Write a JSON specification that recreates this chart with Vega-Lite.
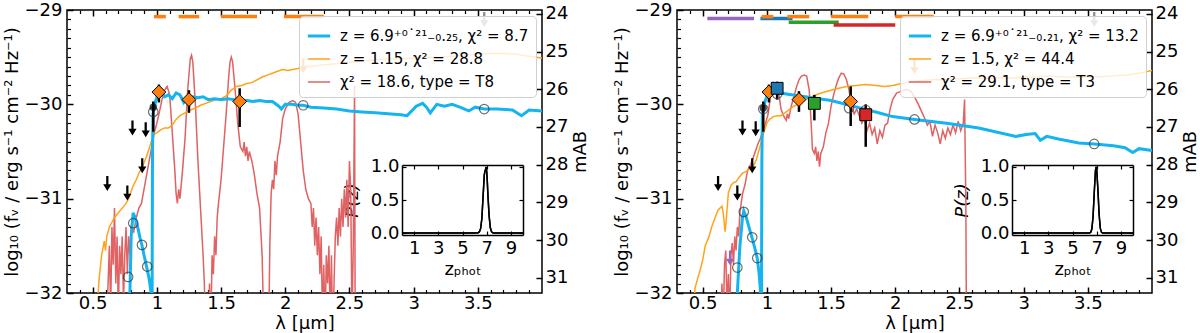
{
"$schema":"https://vega.github.io/schema/vega-lite/v6.json",
"padding":{"left":2,"top":0,"right":0,"bottom":0},
"bounds":"flush",
"spacing":135,
"config":{
 "font":"DejaVu Sans",
 "view":{"stroke":"black","strokeWidth":1.5},
 "axis":{"domain":false,"grid":false,"tickColor":"black","labelColor":"black","titleColor":"black","labelFontSize":18,"titleFontSize":18,"titleFontWeight":"normal","labelOverlap":false,"labelFlush":false,"labelBound":false,"tickCap":"butt"},
 "legend":{"orient":"top-right","offset":6,"title":null,"symbolType":"stroke","symbolSize":500,"labelFontSize":15,"labelOffset":8,"rowPadding":3,"padding":7,"fillColor":"rgba(255,255,255,0.8)","strokeColor":"#d0d0d0","cornerRadius":4,"labelLimit":400,"labelColor":"black"}
},
"resolve":{"scale":{"color":"independent","strokeWidth":"independent","stroke":"independent","fill":"independent"},"legend":{"color":"independent","strokeWidth":"independent"}},
"datasets":{
"L_mod":[
{"model":"bd","lam":0.60,"logf":-32.5},{"model":"bd","lam":0.62,"logf":-31.9},{"model":"bd","lam":0.63,"logf":-31.5},{"model":"bd","lam":0.64,"logf":-32.2},{"model":"bd","lam":0.65,"logf":-31.3},{"model":"bd","lam":0.66,"logf":-31.7},{"model":"bd","lam":0.67,"logf":-31.1},{"model":"bd","lam":0.68,"logf":-31.9},{"model":"bd","lam":0.69,"logf":-31.4},{"model":"bd","lam":0.70,"logf":-32.2},{"model":"bd","lam":0.71,"logf":-31.5},{"model":"bd","lam":0.72,"logf":-31.8},{"model":"bd","lam":0.73,"logf":-31.4},{"model":"bd","lam":0.74,"logf":-32.1},{"model":"bd","lam":0.75,"logf":-31.6},{"model":"bd","lam":0.76,"logf":-31.3},{"model":"bd","lam":0.77,"logf":-31.8},{"model":"bd","lam":0.78,"logf":-31.4},{"model":"bd","lam":0.79,"logf":-31.6},{"model":"bd","lam":0.80,"logf":-31.3},{"model":"bd","lam":0.82,"logf":-31.35},{"model":"bd","lam":0.84,"logf":-31.2},{"model":"bd","lam":0.86,"logf":-31.1},{"model":"bd","lam":0.88,"logf":-31.05},{"model":"bd","lam":0.90,"logf":-30.9},{"model":"bd","lam":0.92,"logf":-30.75},{"model":"bd","lam":0.94,"logf":-30.6},{"model":"bd","lam":0.96,"logf":-30.45},{"model":"bd","lam":0.98,"logf":-30.3},{"model":"bd","lam":1.00,"logf":-30.2},{"model":"bd","lam":1.02,"logf":-30.08},{"model":"bd","lam":1.04,"logf":-29.95},{"model":"bd","lam":1.06,"logf":-29.85},{"model":"bd","lam":1.08,"logf":-29.81},{"model":"bd","lam":1.10,"logf":-29.9},{"model":"bd","lam":1.12,"logf":-30.3},{"model":"bd","lam":1.14,"logf":-30.7},{"model":"bd","lam":1.15,"logf":-30.95},{"model":"bd","lam":1.16,"logf":-31.05},{"model":"bd","lam":1.17,"logf":-30.9},{"model":"bd","lam":1.18,"logf":-31.0},{"model":"bd","lam":1.20,"logf":-30.7},{"model":"bd","lam":1.22,"logf":-30.35},{"model":"bd","lam":1.24,"logf":-29.85},{"model":"bd","lam":1.26,"logf":-29.52},{"model":"bd","lam":1.27,"logf":-29.48},{"model":"bd","lam":1.28,"logf":-29.55},{"model":"bd","lam":1.30,"logf":-30.0},{"model":"bd","lam":1.32,"logf":-30.6},{"model":"bd","lam":1.34,"logf":-31.1},{"model":"bd","lam":1.36,"logf":-31.6},{"model":"bd","lam":1.37,"logf":-31.9},{"model":"bd","lam":1.38,"logf":-32.5},{"model":"bd","lam":1.40,"logf":-32.5},{"model":"bd","lam":1.41,"logf":-31.9},{"model":"bd","lam":1.42,"logf":-32.4},{"model":"bd","lam":1.43,"logf":-31.6},{"model":"bd","lam":1.44,"logf":-31.8},{"model":"bd","lam":1.45,"logf":-31.4},{"model":"bd","lam":1.46,"logf":-31.6},{"model":"bd","lam":1.47,"logf":-31.2},{"model":"bd","lam":1.48,"logf":-31.05},{"model":"bd","lam":1.50,"logf":-30.8},{"model":"bd","lam":1.52,"logf":-30.45},{"model":"bd","lam":1.54,"logf":-30.1},{"model":"bd","lam":1.56,"logf":-29.7},{"model":"bd","lam":1.57,"logf":-29.55},{"model":"bd","lam":1.58,"logf":-29.5},{"model":"bd","lam":1.59,"logf":-29.55},{"model":"bd","lam":1.61,"logf":-29.85},{"model":"bd","lam":1.63,"logf":-30.2},{"model":"bd","lam":1.65,"logf":-30.45},{"model":"bd","lam":1.67,"logf":-30.5},{"model":"bd","lam":1.68,"logf":-30.4},{"model":"bd","lam":1.69,"logf":-30.55},{"model":"bd","lam":1.70,"logf":-30.45},{"model":"bd","lam":1.71,"logf":-30.6},{"model":"bd","lam":1.72,"logf":-30.5},{"model":"bd","lam":1.74,"logf":-30.6},{"model":"bd","lam":1.76,"logf":-30.75},{"model":"bd","lam":1.78,"logf":-30.95},{"model":"bd","lam":1.80,"logf":-31.1},{"model":"bd","lam":1.82,"logf":-31.6},{"model":"bd","lam":1.83,"logf":-32.2},{"model":"bd","lam":1.84,"logf":-32.5},{"model":"bd","lam":1.87,"logf":-32.5},{"model":"bd","lam":1.88,"logf":-31.5},{"model":"bd","lam":1.89,"logf":-30.95},{"model":"bd","lam":1.90,"logf":-30.8},{"model":"bd","lam":1.91,"logf":-30.9},{"model":"bd","lam":1.92,"logf":-30.6},{"model":"bd","lam":1.93,"logf":-30.75},{"model":"bd","lam":1.94,"logf":-30.55},{"model":"bd","lam":1.96,"logf":-30.4},{"model":"bd","lam":1.98,"logf":-30.15},{"model":"bd","lam":2.00,"logf":-30.05},{"model":"bd","lam":2.03,"logf":-29.98},{"model":"bd","lam":2.06,"logf":-29.96},{"model":"bd","lam":2.08,"logf":-29.98},{"model":"bd","lam":2.10,"logf":-30.1},{"model":"bd","lam":2.12,"logf":-30.4},{"model":"bd","lam":2.14,"logf":-30.7},{"model":"bd","lam":2.16,"logf":-30.9},{"model":"bd","lam":2.18,"logf":-31.0},{"model":"bd","lam":2.20,"logf":-31.05},{"model":"bd","lam":2.21,"logf":-31.3},{"model":"bd","lam":2.22,"logf":-31.1},{"model":"bd","lam":2.23,"logf":-31.5},{"model":"bd","lam":2.24,"logf":-31.2},{"model":"bd","lam":2.25,"logf":-31.6},{"model":"bd","lam":2.26,"logf":-31.3},{"model":"bd","lam":2.27,"logf":-31.8},{"model":"bd","lam":2.28,"logf":-31.4},{"model":"bd","lam":2.29,"logf":-32.3},{"model":"bd","lam":2.30,"logf":-31.7},{"model":"bd","lam":2.31,"logf":-32.4},{"model":"bd","lam":2.32,"logf":-31.6},{"model":"bd","lam":2.33,"logf":-31.9},{"model":"bd","lam":2.34,"logf":-31.5},{"model":"bd","lam":2.35,"logf":-32.3},{"model":"bd","lam":2.36,"logf":-31.6},{"model":"bd","lam":2.37,"logf":-32.5},{"model":"bd","lam":2.38,"logf":-31.9},{"model":"bd","lam":2.39,"logf":-31.4},{"model":"bd","lam":2.40,"logf":-31.2},{"model":"bd","lam":2.41,"logf":-31.5},{"model":"bd","lam":2.42,"logf":-31.1},{"model":"bd","lam":2.43,"logf":-31.4},{"model":"bd","lam":2.44,"logf":-31.0},{"model":"bd","lam":2.45,"logf":-31.3},{"model":"bd","lam":2.46,"logf":-30.9},{"model":"bd","lam":2.47,"logf":-31.2},{"model":"bd","lam":2.48,"logf":-30.8},{"model":"bd","lam":2.49,"logf":-31.3},{"model":"bd","lam":2.50,"logf":-30.6},{"model":"bd","lam":2.51,"logf":-30.9},{"model":"bd","lam":2.52,"logf":-32.3},{"model":"bd","lam":2.53,"logf":-31.5},{"model":"bd","lam":2.54,"logf":-29.8},{"model":"bd","lam":2.545,"logf":-32.5},
{"model":"alt","lam":0.52,"logf":-32.5},{"model":"alt","lam":0.55,"logf":-31.85},{"model":"alt","lam":0.57,"logf":-31.6},{"model":"alt","lam":0.59,"logf":-31.45},{"model":"alt","lam":0.60,"logf":-31.55},{"model":"alt","lam":0.61,"logf":-31.4},{"model":"alt","lam":0.63,"logf":-31.3},{"model":"alt","lam":0.65,"logf":-31.25},{"model":"alt","lam":0.67,"logf":-31.2},{"model":"alt","lam":0.70,"logf":-31.15},{"model":"alt","lam":0.73,"logf":-31.1},{"model":"alt","lam":0.76,"logf":-31.05},{"model":"alt","lam":0.78,"logf":-31.0},{"model":"alt","lam":0.80,"logf":-30.92},{"model":"alt","lam":0.82,"logf":-30.85},{"model":"alt","lam":0.84,"logf":-30.8},{"model":"alt","lam":0.86,"logf":-30.73},{"model":"alt","lam":0.88,"logf":-30.68},{"model":"alt","lam":0.90,"logf":-30.62},{"model":"alt","lam":0.92,"logf":-30.55},{"model":"alt","lam":0.94,"logf":-30.47},{"model":"alt","lam":0.96,"logf":-30.38},{"model":"alt","lam":0.98,"logf":-30.32},{"model":"alt","lam":1.00,"logf":-30.3},{"model":"alt","lam":1.03,"logf":-30.27},{"model":"alt","lam":1.06,"logf":-30.25},{"model":"alt","lam":1.09,"logf":-30.25},{"model":"alt","lam":1.12,"logf":-30.22},{"model":"alt","lam":1.15,"logf":-30.16},{"model":"alt","lam":1.18,"logf":-30.12},{"model":"alt","lam":1.22,"logf":-30.09},{"model":"alt","lam":1.26,"logf":-30.06},{"model":"alt","lam":1.30,"logf":-30.04},{"model":"alt","lam":1.34,"logf":-30.01},{"model":"alt","lam":1.38,"logf":-29.99},{"model":"alt","lam":1.42,"logf":-29.97},{"model":"alt","lam":1.46,"logf":-29.95},{"model":"alt","lam":1.50,"logf":-29.94},{"model":"alt","lam":1.54,"logf":-29.91},{"model":"alt","lam":1.58,"logf":-29.85},{"model":"alt","lam":1.62,"logf":-29.81},{"model":"alt","lam":1.66,"logf":-29.8},{"model":"alt","lam":1.70,"logf":-29.78},{"model":"alt","lam":1.74,"logf":-29.77},{"model":"alt","lam":1.78,"logf":-29.74},{"model":"alt","lam":1.82,"logf":-29.71},{"model":"alt","lam":1.86,"logf":-29.69},{"model":"alt","lam":1.90,"logf":-29.67},{"model":"alt","lam":1.94,"logf":-29.65},{"model":"alt","lam":1.98,"logf":-29.63},{"model":"alt","lam":2.02,"logf":-29.64},{"model":"alt","lam":2.06,"logf":-29.63},{"model":"alt","lam":2.10,"logf":-29.62},{"model":"alt","lam":2.14,"logf":-29.6},{"model":"alt","lam":2.2,"logf":-29.6},{"model":"alt","lam":2.3,"logf":-29.58},{"model":"alt","lam":2.4,"logf":-29.57},{"model":"alt","lam":2.5,"logf":-29.55},{"model":"alt","lam":2.6,"logf":-29.54},{"model":"alt","lam":2.7,"logf":-29.53},{"model":"alt","lam":2.8,"logf":-29.52},{"model":"alt","lam":2.9,"logf":-29.52},{"model":"alt","lam":3.0,"logf":-29.51},{"model":"alt","lam":3.1,"logf":-29.5},{"model":"alt","lam":3.2,"logf":-29.5},{"model":"alt","lam":3.3,"logf":-29.49},{"model":"alt","lam":3.4,"logf":-29.48},{"model":"alt","lam":3.5,"logf":-29.47},{"model":"alt","lam":3.6,"logf":-29.46},{"model":"alt","lam":3.7,"logf":-29.46},{"model":"alt","lam":3.8,"logf":-29.47},{"model":"alt","lam":3.9,"logf":-29.49},{"model":"alt","lam":4.0,"logf":-29.51},
{"model":"fit","lam":0.78,"logf":-32.6},{"model":"fit","lam":0.79,"logf":-32.0},{"model":"fit","lam":0.80,"logf":-31.4},{"model":"fit","lam":0.815,"logf":-31.15},{"model":"fit","lam":0.83,"logf":-31.2},{"model":"fit","lam":0.85,"logf":-31.3},{"model":"fit","lam":0.87,"logf":-31.42},{"model":"fit","lam":0.885,"logf":-31.5},{"model":"fit","lam":0.90,"logf":-31.6},{"model":"fit","lam":0.92,"logf":-31.72},{"model":"fit","lam":0.94,"logf":-31.85},{"model":"fit","lam":0.955,"logf":-32.0},{"model":"fit","lam":0.96,"logf":-32.6},{"model":"fit","lam":0.962,"logf":-32.6},{"model":"fit","lam":0.966,"logf":-30.5},{"model":"fit","lam":0.97,"logf":-30.1},{"model":"fit","lam":0.99,"logf":-29.97},{"model":"fit","lam":1.01,"logf":-29.88},{"model":"fit","lam":1.03,"logf":-29.85},{"model":"fit","lam":1.06,"logf":-29.92},{"model":"fit","lam":1.09,"logf":-29.9},{"model":"fit","lam":1.12,"logf":-29.94},{"model":"fit","lam":1.15,"logf":-29.88},{"model":"fit","lam":1.18,"logf":-29.9},{"model":"fit","lam":1.21,"logf":-29.98},{"model":"fit","lam":1.24,"logf":-29.93},{"model":"fit","lam":1.28,"logf":-29.92},{"model":"fit","lam":1.32,"logf":-29.93},{"model":"fit","lam":1.36,"logf":-29.92},{"model":"fit","lam":1.40,"logf":-29.95},{"model":"fit","lam":1.45,"logf":-29.94},{"model":"fit","lam":1.50,"logf":-29.95},{"model":"fit","lam":1.55,"logf":-29.94},{"model":"fit","lam":1.60,"logf":-29.95},{"model":"fit","lam":1.65,"logf":-29.96},{"model":"fit","lam":1.70,"logf":-29.96},{"model":"fit","lam":1.75,"logf":-29.97},{"model":"fit","lam":1.80,"logf":-29.96},{"model":"fit","lam":1.85,"logf":-29.97},{"model":"fit","lam":1.90,"logf":-29.97},{"model":"fit","lam":1.95,"logf":-30.02},{"model":"fit","lam":1.97,"logf":-30.05},{"model":"fit","lam":2.0,"logf":-30.0},{"model":"fit","lam":2.05,"logf":-30.0},{"model":"fit","lam":2.1,"logf":-30.01},{"model":"fit","lam":2.14,"logf":-30.01},{"model":"fit","lam":2.2,"logf":-30.03},{"model":"fit","lam":2.3,"logf":-30.04},{"model":"fit","lam":2.4,"logf":-30.05},{"model":"fit","lam":2.5,"logf":-30.07},{"model":"fit","lam":2.6,"logf":-30.08},{"model":"fit","lam":2.7,"logf":-30.09},{"model":"fit","lam":2.8,"logf":-30.1},{"model":"fit","lam":2.9,"logf":-30.11},{"model":"fit","lam":2.95,"logf":-30.12},{"model":"fit","lam":3.02,"logf":-30.02},{"model":"fit","lam":3.07,"logf":-29.99},{"model":"fit","lam":3.1,"logf":-30.03},{"model":"fit","lam":3.13,"logf":-30.09},{"model":"fit","lam":3.18,"logf":-30.0},{"model":"fit","lam":3.24,"logf":-30.02},{"model":"fit","lam":3.3,"logf":-30.0},{"model":"fit","lam":3.36,"logf":-30.03},{"model":"fit","lam":3.43,"logf":-30.07},{"model":"fit","lam":3.48,"logf":-30.03},{"model":"fit","lam":3.55,"logf":-30.05},{"model":"fit","lam":3.65,"logf":-30.05},{"model":"fit","lam":3.77,"logf":-30.06},{"model":"fit","lam":3.84,"logf":-30.12},{"model":"fit","lam":3.9,"logf":-30.06},{"model":"fit","lam":4.0,"logf":-30.07}
],
"R_mod":[
{"model":"bd","lam":0.64,"logf":-32.5},{"model":"bd","lam":0.65,"logf":-31.9},{"model":"bd","lam":0.66,"logf":-32.3},{"model":"bd","lam":0.67,"logf":-31.7},{"model":"bd","lam":0.68,"logf":-31.55},{"model":"bd","lam":0.69,"logf":-32.2},{"model":"bd","lam":0.70,"logf":-31.8},{"model":"bd","lam":0.71,"logf":-32.3},{"model":"bd","lam":0.72,"logf":-31.6},{"model":"bd","lam":0.73,"logf":-31.47},{"model":"bd","lam":0.74,"logf":-31.7},{"model":"bd","lam":0.75,"logf":-31.4},{"model":"bd","lam":0.76,"logf":-31.55},{"model":"bd","lam":0.77,"logf":-31.3},{"model":"bd","lam":0.78,"logf":-31.4},{"model":"bd","lam":0.79,"logf":-31.15},{"model":"bd","lam":0.81,"logf":-30.95},{"model":"bd","lam":0.83,"logf":-30.85},{"model":"bd","lam":0.85,"logf":-30.7},{"model":"bd","lam":0.87,"logf":-30.65},{"model":"bd","lam":0.89,"logf":-30.58},{"model":"bd","lam":0.91,"logf":-30.5},{"model":"bd","lam":0.93,"logf":-30.42},{"model":"bd","lam":0.95,"logf":-30.36},{"model":"bd","lam":0.97,"logf":-30.28},{"model":"bd","lam":0.99,"logf":-30.2},{"model":"bd","lam":1.01,"logf":-30.1},{"model":"bd","lam":1.03,"logf":-29.9},{"model":"bd","lam":1.05,"logf":-29.77},{"model":"bd","lam":1.07,"logf":-29.8},{"model":"bd","lam":1.09,"logf":-29.86},{"model":"bd","lam":1.11,"logf":-30.05},{"model":"bd","lam":1.13,"logf":-30.12},{"model":"bd","lam":1.15,"logf":-30.17},{"model":"bd","lam":1.16,"logf":-30.1},{"model":"bd","lam":1.17,"logf":-30.15},{"model":"bd","lam":1.19,"logf":-30.02},{"model":"bd","lam":1.21,"logf":-29.92},{"model":"bd","lam":1.23,"logf":-29.82},{"model":"bd","lam":1.25,"logf":-29.74},{"model":"bd","lam":1.27,"logf":-29.7},{"model":"bd","lam":1.29,"logf":-29.69},{"model":"bd","lam":1.31,"logf":-29.7},{"model":"bd","lam":1.33,"logf":-29.85},{"model":"bd","lam":1.345,"logf":-30.2},{"model":"bd","lam":1.355,"logf":-30.48},{"model":"bd","lam":1.37,"logf":-30.52},{"model":"bd","lam":1.38,"logf":-30.45},{"model":"bd","lam":1.39,"logf":-30.6},{"model":"bd","lam":1.40,"logf":-30.5},{"model":"bd","lam":1.41,"logf":-30.66},{"model":"bd","lam":1.42,"logf":-30.52},{"model":"bd","lam":1.44,"logf":-30.45},{"model":"bd","lam":1.46,"logf":-30.3},{"model":"bd","lam":1.48,"logf":-30.2},{"model":"bd","lam":1.50,"logf":-30.02},{"model":"bd","lam":1.52,"logf":-29.9},{"model":"bd","lam":1.54,"logf":-29.8},{"model":"bd","lam":1.56,"logf":-29.72},{"model":"bd","lam":1.58,"logf":-29.67},{"model":"bd","lam":1.60,"logf":-29.68},{"model":"bd","lam":1.62,"logf":-29.74},{"model":"bd","lam":1.64,"logf":-29.85},{"model":"bd","lam":1.66,"logf":-30.02},{"model":"bd","lam":1.68,"logf":-30.1},{"model":"bd","lam":1.70,"logf":-30.05},{"model":"bd","lam":1.72,"logf":-30.12},{"model":"bd","lam":1.74,"logf":-30.2},{"model":"bd","lam":1.76,"logf":-30.15},{"model":"bd","lam":1.78,"logf":-30.28},{"model":"bd","lam":1.80,"logf":-30.2},{"model":"bd","lam":1.82,"logf":-30.32},{"model":"bd","lam":1.84,"logf":-30.25},{"model":"bd","lam":1.86,"logf":-30.42},{"model":"bd","lam":1.88,"logf":-30.28},{"model":"bd","lam":1.90,"logf":-30.35},{"model":"bd","lam":1.92,"logf":-30.22},{"model":"bd","lam":1.94,"logf":-30.2},{"model":"bd","lam":1.96,"logf":-30.05},{"model":"bd","lam":1.98,"logf":-29.95},{"model":"bd","lam":2.01,"logf":-29.88},{"model":"bd","lam":2.05,"logf":-29.86},{"model":"bd","lam":2.09,"logf":-29.84},{"model":"bd","lam":2.12,"logf":-29.86},{"model":"bd","lam":2.15,"logf":-29.92},{"model":"bd","lam":2.18,"logf":-30.0},{"model":"bd","lam":2.21,"logf":-30.09},{"model":"bd","lam":2.23,"logf":-30.15},{"model":"bd","lam":2.25,"logf":-30.22},{"model":"bd","lam":2.27,"logf":-30.18},{"model":"bd","lam":2.29,"logf":-30.34},{"model":"bd","lam":2.31,"logf":-30.22},{"model":"bd","lam":2.33,"logf":-30.3},{"model":"bd","lam":2.35,"logf":-30.42},{"model":"bd","lam":2.37,"logf":-30.28},{"model":"bd","lam":2.39,"logf":-30.36},{"model":"bd","lam":2.41,"logf":-30.25},{"model":"bd","lam":2.43,"logf":-30.32},{"model":"bd","lam":2.45,"logf":-30.22},{"model":"bd","lam":2.47,"logf":-30.3},{"model":"bd","lam":2.49,"logf":-30.18},{"model":"bd","lam":2.51,"logf":-30.28},{"model":"bd","lam":2.53,"logf":-30.2},{"model":"bd","lam":2.54,"logf":-29.95},{"model":"bd","lam":2.55,"logf":-31.05},{"model":"bd","lam":2.555,"logf":-32.5},
{"model":"alt","lam":0.42,"logf":-32.5},{"model":"alt","lam":0.44,"logf":-31.95},{"model":"alt","lam":0.46,"logf":-31.85},{"model":"alt","lam":0.48,"logf":-31.76},{"model":"alt","lam":0.50,"logf":-31.65},{"model":"alt","lam":0.52,"logf":-31.5},{"model":"alt","lam":0.55,"logf":-31.4},{"model":"alt","lam":0.57,"logf":-31.3},{"model":"alt","lam":0.60,"logf":-31.19},{"model":"alt","lam":0.62,"logf":-31.12},{"model":"alt","lam":0.65,"logf":-31.08},{"model":"alt","lam":0.66,"logf":-31.15},{"model":"alt","lam":0.675,"logf":-31.35},{"model":"alt","lam":0.685,"logf":-31.2},{"model":"alt","lam":0.70,"logf":-30.94},{"model":"alt","lam":0.72,"logf":-30.86},{"model":"alt","lam":0.74,"logf":-30.83},{"model":"alt","lam":0.76,"logf":-30.82},{"model":"alt","lam":0.78,"logf":-30.78},{"model":"alt","lam":0.81,"logf":-30.73},{"model":"alt","lam":0.84,"logf":-30.71},{"model":"alt","lam":0.87,"logf":-30.68},{"model":"alt","lam":0.90,"logf":-30.64},{"model":"alt","lam":0.92,"logf":-30.58},{"model":"alt","lam":0.94,"logf":-30.48},{"model":"alt","lam":0.96,"logf":-30.38},{"model":"alt","lam":0.98,"logf":-30.28},{"model":"alt","lam":1.00,"logf":-30.2},{"model":"alt","lam":1.02,"logf":-30.16},{"model":"alt","lam":1.05,"logf":-30.13},{"model":"alt","lam":1.08,"logf":-30.12},{"model":"alt","lam":1.11,"logf":-30.12},{"model":"alt","lam":1.14,"logf":-30.09},{"model":"alt","lam":1.17,"logf":-30.06},{"model":"alt","lam":1.21,"logf":-30.02},{"model":"alt","lam":1.25,"logf":-29.99},{"model":"alt","lam":1.30,"logf":-29.95},{"model":"alt","lam":1.35,"logf":-29.92},{"model":"alt","lam":1.40,"logf":-29.89},{"model":"alt","lam":1.45,"logf":-29.87},{"model":"alt","lam":1.50,"logf":-29.85},{"model":"alt","lam":1.56,"logf":-29.83},{"model":"alt","lam":1.62,"logf":-29.81},{"model":"alt","lam":1.70,"logf":-29.8},{"model":"alt","lam":1.77,"logf":-29.79},{"model":"alt","lam":1.85,"logf":-29.8},{"model":"alt","lam":1.92,"logf":-29.81},{"model":"alt","lam":1.98,"logf":-29.8},{"model":"alt","lam":2.05,"logf":-29.78},{"model":"alt","lam":2.13,"logf":-29.76},{"model":"alt","lam":2.2,"logf":-29.75},{"model":"alt","lam":2.3,"logf":-29.74},{"model":"alt","lam":2.4,"logf":-29.74},{"model":"alt","lam":2.5,"logf":-29.73},{"model":"alt","lam":2.6,"logf":-29.72},{"model":"alt","lam":2.7,"logf":-29.72},{"model":"alt","lam":2.8,"logf":-29.72},{"model":"alt","lam":2.9,"logf":-29.72},{"model":"alt","lam":3.0,"logf":-29.71},{"model":"alt","lam":3.1,"logf":-29.71},{"model":"alt","lam":3.2,"logf":-29.7},{"model":"alt","lam":3.3,"logf":-29.71},{"model":"alt","lam":3.43,"logf":-29.71},{"model":"alt","lam":3.55,"logf":-29.71},{"model":"alt","lam":3.69,"logf":-29.7},{"model":"alt","lam":3.8,"logf":-29.69},{"model":"alt","lam":3.9,"logf":-29.67},{"model":"alt","lam":4.0,"logf":-29.64},
{"model":"fit","lam":0.76,"logf":-32.6},{"model":"fit","lam":0.77,"logf":-32.0},{"model":"fit","lam":0.79,"logf":-31.5},{"model":"fit","lam":0.81,"logf":-31.2},{"model":"fit","lam":0.82,"logf":-31.13},{"model":"fit","lam":0.84,"logf":-31.2},{"model":"fit","lam":0.86,"logf":-31.3},{"model":"fit","lam":0.886,"logf":-31.42},{"model":"fit","lam":0.905,"logf":-31.52},{"model":"fit","lam":0.925,"logf":-31.63},{"model":"fit","lam":0.94,"logf":-31.8},{"model":"fit","lam":0.95,"logf":-31.97},{"model":"fit","lam":0.955,"logf":-32.6},{"model":"fit","lam":0.957,"logf":-32.6},{"model":"fit","lam":0.961,"logf":-30.6},{"model":"fit","lam":0.965,"logf":-30.1},{"model":"fit","lam":0.975,"logf":-30.02},{"model":"fit","lam":0.99,"logf":-29.95},{"model":"fit","lam":1.01,"logf":-29.88},{"model":"fit","lam":1.04,"logf":-29.87},{"model":"fit","lam":1.07,"logf":-29.86},{"model":"fit","lam":1.1,"logf":-29.88},{"model":"fit","lam":1.3,"logf":-29.92},{"model":"fit","lam":1.5,"logf":-29.96},{"model":"fit","lam":1.7,"logf":-30.03},{"model":"fit","lam":1.87,"logf":-30.09},{"model":"fit","lam":1.98,"logf":-30.13},{"model":"fit","lam":2.15,"logf":-30.16},{"model":"fit","lam":2.4,"logf":-30.2},{"model":"fit","lam":2.65,"logf":-30.25},{"model":"fit","lam":2.94,"logf":-30.34},{"model":"fit","lam":3.02,"logf":-30.32},{"model":"fit","lam":3.09,"logf":-30.31},{"model":"fit","lam":3.13,"logf":-30.38},{"model":"fit","lam":3.18,"logf":-30.34},{"model":"fit","lam":3.28,"logf":-30.37},{"model":"fit","lam":3.43,"logf":-30.41},{"model":"fit","lam":3.55,"logf":-30.42},{"model":"fit","lam":3.7,"logf":-30.44},{"model":"fit","lam":3.79,"logf":-30.46},{"model":"fit","lam":3.85,"logf":-30.51},{"model":"fit","lam":3.9,"logf":-30.47},{"model":"fit","lam":4.0,"logf":-30.49}
],
"L_bars":[{"band":"B5","x1":0.977,"x2":1.07,"yb":-29.07},{"band":"B5","x1":1.17,"x2":1.33,"yb":-29.07},{"band":"B5","x1":1.5,"x2":1.78,"yb":-29.07},{"band":"B5","x1":1.99,"x2":2.30,"yb":-29.07}],
"R_bars":[{"band":"B1","x1":0.536,"x2":0.9,"yb":-29.09},{"band":"B2","x1":0.95,"x2":1.2,"yb":-29.09},{"band":"B5","x1":0.96,"x2":1.05,"yb":-29.07},{"band":"B5","x1":1.16,"x2":1.33,"yb":-29.07},{"band":"B5","x1":1.5,"x2":1.79,"yb":-29.07},{"band":"B5","x1":2.0,"x2":2.3,"yb":-29.07},{"band":"B3","x1":1.17,"x2":1.56,"yb":-29.13},{"band":"B4","x1":1.52,"x2":2.0,"yb":-29.16}],
"L_pts":[{"kind":"dot","band":"B0","lam":0.972,"logf":-30.03,"lo":-30.29,"hi":-29.97},{"kind":"dia","band":"B5","lam":1.016,"logf":-29.87,"lo":-29.98,"hi":-29.79},{"kind":"dia","band":"B5","lam":1.25,"logf":-29.95,"lo":-30.09,"hi":-29.85},{"kind":"dia","band":"B5","lam":1.645,"logf":-29.97,"lo":-30.24,"hi":-29.83}],
"R_pts":[{"kind":"dot","band":"B0","lam":0.972,"logf":-30.04,"lo":-30.29,"hi":-29.97},{"kind":"dia","band":"B5","lam":1.016,"logf":-29.87,"lo":-29.98,"hi":-29.79},{"kind":"sq","band":"B2","lam":1.08,"logf":-29.83,"lo":-29.95,"hi":-29.76},{"kind":"dia","band":"B5","lam":1.25,"logf":-29.95,"lo":-30.08,"hi":-29.86},{"kind":"sq","band":"B3","lam":1.37,"logf":-29.99,"lo":-30.17,"hi":-29.9},{"kind":"dia","band":"B5","lam":1.653,"logf":-29.97,"lo":-30.23,"hi":-29.81},{"kind":"sq","band":"B4","lam":1.77,"logf":-30.11,"lo":-30.45,"hi":-30.0}],
"L_circ":[{"lam":0.776,"logf":-31.83},{"lam":0.816,"logf":-31.26},{"lam":0.884,"logf":-31.49},{"lam":0.925,"logf":-31.72},{"lam":0.972,"logf":-30.08},{"lam":2.14,"logf":-30.01},{"lam":3.55,"logf":-30.05}],
"R_circ":[{"lam":0.77,"logf":-31.73},{"lam":0.82,"logf":-31.14},{"lam":0.886,"logf":-31.41},{"lam":0.925,"logf":-31.63},{"lam":0.972,"logf":-30.05},{"lam":1.08,"logf":-29.89},{"lam":1.64,"logf":-30.04},{"lam":1.77,"logf":-30.06},{"lam":2.15,"logf":-30.16},{"lam":3.55,"logf":-30.42}],
"L_arr":[{"kind":"k","lam":0.614,"logf":-30.84},{"kind":"k","lam":0.77,"logf":-30.94},{"kind":"k","lam":0.81,"logf":-30.25},{"kind":"k","lam":0.913,"logf":-30.27},{"kind":"k","lam":0.886,"logf":-30.65},{"kind":"o","lam":2.14,"logf":-29.59},{"kind":"g","lam":3.55,"logf":-29.1}],
"R_arr":[{"kind":"k","lam":0.62,"logf":-30.84},{"kind":"k","lam":0.77,"logf":-30.94},{"kind":"k","lam":0.81,"logf":-30.25},{"kind":"k","lam":0.913,"logf":-30.26},{"kind":"k","lam":0.886,"logf":-30.65},{"kind":"p","lam":0.713,"logf":-31.63},{"kind":"o","lam":2.15,"logf":-29.6},{"kind":"g","lam":3.55,"logf":-29.1}],
"P_L":[{"z":0,"p":0},{"z":6.0,"p":0},{"z":6.3,"p":0.005},{"z":6.4,"p":0.02},{"z":6.5,"p":0.07},{"z":6.6,"p":0.22},{"z":6.7,"p":0.55},{"z":6.8,"p":0.88},{"z":6.85,"p":0.93},{"z":6.9,"p":0.96},{"z":6.95,"p":1.0},{"z":7.0,"p":0.93},{"z":7.05,"p":0.78},{"z":7.1,"p":0.58},{"z":7.2,"p":0.26},{"z":7.3,"p":0.08},{"z":7.4,"p":0.02},{"z":7.5,"p":0.004},{"z":7.6,"p":0},{"z":10,"p":0}],
"P_R":[{"z":0,"p":0},{"z":6.4,"p":0},{"z":6.5,"p":0.01},{"z":6.6,"p":0.06},{"z":6.7,"p":0.25},{"z":6.8,"p":0.62},{"z":6.9,"p":0.95},{"z":6.95,"p":1.0},{"z":7.0,"p":0.96},{"z":7.1,"p":0.66},{"z":7.2,"p":0.28},{"z":7.3,"p":0.07},{"z":7.4,"p":0.01},{"z":7.5,"p":0},{"z":10,"p":0}]
},
"hconcat":[
{
 "width":475,"height":283,
 "layer":[
 {
  "layer":[
   {"data":{"name":"L_bars"},"mark":{"type":"rule","strokeWidth":3.5},
    "encoding":{
     "x":{"field":"x1","type":"quantitative","scale":{"domain":[0.3,4.0],"nice":false,"zero":false},"axis":{"orient":"bottom","values":[0.4,0.6,0.7,0.8,0.9,1.1,1.2,1.3,1.4,1.6,1.7,1.8,1.9,2.1,2.2,2.3,2.4,2.6,2.7,2.8,2.9,3.1,3.2,3.3,3.4,3.6,3.7,3.8,3.9],"labels":false,"tickSize":-3.5,"tickWidth":1.2,"title":null}},
     "x2":{"field":"x2"},
     "y":{"field":"yb","type":"quantitative","scale":{"domain":[-32,-29],"nice":false,"zero":false},"axis":{"orient":"left","values":[-31.9,-31.8,-31.7,-31.6,-31.5,-31.4,-31.3,-31.2,-31.1,-30.9,-30.8,-30.7,-30.6,-30.5,-30.4,-30.3,-30.2,-30.1,-29.9,-29.8,-29.7,-29.6,-29.5,-29.4,-29.3,-29.2,-29.1],"labels":false,"tickSize":-3.5,"tickWidth":1.2,"title":null}},
     "stroke":{"field":"band","type":"nominal","scale":{"domain":["B1","B2","B3","B4","B5"],"range":["#9467bd","#1f77b4","#2ca02c","#d62728","#ff7f0e"]},"legend":null}
    }},
   {"data":{"name":"L_mod"},"mark":{"type":"line","clip":true},
    "encoding":{
     "x":{"field":"lam","type":"quantitative","axis":{"orient":"bottom","values":[0.5,1,1.5,2,2.5,3,3.5],"format":"~g","title":"λ [μm]","tickSize":-6,"tickWidth":1.5,"labelPadding":7,"titlePadding":2}},
     "y":{"field":"logf","type":"quantitative","axis":{"orient":"left","values":[-32,-31,-30,-29],"format":"d","title":"log₁₀ (fᵥ / erg s⁻¹ cm⁻² Hz⁻¹)","tickSize":-6,"tickWidth":1.5,"labelPadding":11,"titlePadding":3}},
     "color":{"field":"model","type":"nominal","scale":{"domain":["fit","alt","bd"],"range":["#14b4f0","#ffa31a","#e06262"]},"legend":{"labelExpr":"datum.label == 'fit' ? 'z = 6.9⁺⁰˙²¹₋₀.₂₅, χ² = 8.7' : datum.label == 'alt' ? 'z = 1.15, χ² = 28.8' : 'χ² = 18.6, type = T8'"}},
     "strokeWidth":{"field":"model","type":"nominal","scale":{"type":"ordinal","domain":["fit","alt","bd"],"range":[3,1.5,1.5]}}
    }},
   {"data":{"name":"L_pts"},"mark":{"type":"rule","color":"black","strokeWidth":2.5},
    "encoding":{
     "x":{"field":"lam","type":"quantitative","axis":{"orient":"top","values":[0.5,1,1.5,2,2.5,3,3.5],"labels":false,"tickSize":-6,"tickWidth":1.5,"title":null}},
     "y":{"field":"lo","type":"quantitative","axis":{"orient":"right","values":[-29.04,-29.44,-29.84,-30.24,-30.64,-31.04,-31.44,-31.84],"labelExpr":"format(-2.5*datum.value-48.6,'.0f')","title":"mAB","titleAngle":270,"titleBaseline":"top","tickSize":-6,"tickWidth":1.5,"labelPadding":9,"titlePadding":4}},
     "y2":{"field":"hi"}
    }},
   {"data":{"name":"L_circ"},"mark":{"type":"point","shape":"circle","filled":false,"stroke":"#333333","strokeWidth":1.2,"size":90},
    "encoding":{
     "x":{"field":"lam","type":"quantitative","axis":{"orient":"top","values":[0.4,0.6,0.7,0.8,0.9,1.1,1.2,1.3,1.4,1.6,1.7,1.8,1.9,2.1,2.2,2.3,2.4,2.6,2.7,2.8,2.9,3.1,3.2,3.3,3.4,3.6,3.7,3.8,3.9],"labels":false,"tickSize":-3.5,"tickWidth":1.2,"title":null}},
     "y":{"field":"logf","type":"quantitative","axis":null}
    }},
   {"data":{"name":"L_pts"},"transform":[{"filter":"datum.kind == 'dot'"}],"mark":{"type":"point","shape":"circle","filled":true,"color":"black","size":55},
    "encoding":{"x":{"field":"lam","type":"quantitative","axis":null},"y":{"field":"logf","type":"quantitative","axis":null}}},
   {"data":{"name":"L_pts"},"transform":[{"filter":"datum.kind == 'dia'"}],"mark":{"type":"point","shape":"diamond","filled":true,"fill":"#ff7f0e","stroke":"black","strokeWidth":1,"size":190,"opacity":1},
    "encoding":{"x":{"field":"lam","type":"quantitative","axis":null},"y":{"field":"logf","type":"quantitative","axis":null}}},
   {"data":{"name":"L_arr"},"transform":[{"filter":"datum.kind == 'k'"}],"mark":{"type":"point","shape":"M-0.15,-1L0.15,-1L0.15,0.1L0.55,0.1L0,1L-0.55,0.1L-0.15,0.1Z","filled":true,"color":"black","size":225,"opacity":1},
    "encoding":{"x":{"field":"lam","type":"quantitative","axis":null},"y":{"field":"logf","type":"quantitative","axis":null}}},
   {"data":{"name":"L_arr"},"transform":[{"filter":"datum.kind == 'o'"}],"mark":{"type":"point","shape":"M-0.15,-1L0.15,-1L0.15,0.1L0.55,0.1L0,1L-0.55,0.1L-0.15,0.1Z","filled":true,"color":"#ff7f0e","size":225,"opacity":1},
    "encoding":{"x":{"field":"lam","type":"quantitative","axis":null},"y":{"field":"logf","type":"quantitative","axis":null}}},
   {"data":{"name":"L_arr"},"transform":[{"filter":"datum.kind == 'g'"}],"mark":{"type":"point","shape":"M-0.15,-1L0.15,-1L0.15,0.1L0.55,0.1L0,1L-0.55,0.1L-0.15,0.1Z","filled":true,"color":"#8c8c8c","size":225,"opacity":1},
    "encoding":{"x":{"field":"lam","type":"quantitative","axis":null},"y":{"field":"logf","type":"quantitative","axis":null}}}
  ],
  "resolve":{"axis":{"x":"independent","y":"independent"}}
 },
 {
  "layer":[
   {"data":{"name":"P_L"},"mark":{"type":"line","color":"black","strokeWidth":1.5},
    "encoding":{
     "x":{"field":"z","type":"quantitative","scale":{"domain":[0,10],"range":[335,456],"nice":false,"zero":false},"axis":{"orient":"bottom","offset":-58,"values":[1,3,5,7,9],"format":"d","title":"zₚₕₒₜ","domain":true,"domainColor":"black","domainWidth":1.5,"tickSize":-4,"tickWidth":1.2,"labelPadding":8,"titlePadding":3}},
     "y":{"field":"p","type":"quantitative","scale":{"domain":[-0.03,1.03],"range":[225,155],"nice":false,"zero":false},"axis":{"orient":"left","offset":-335,"values":[0,0.5,1],"format":".1f","title":"P(z)","titleFontStyle":"italic","domain":true,"domainColor":"black","domainWidth":1.5,"tickSize":-4,"tickWidth":1.2,"labelPadding":7,"titlePadding":9}}
    }},
   {"data":{"name":"P_L"},"mark":{"type":"line","color":"black","strokeWidth":1.5},
    "encoding":{
     "x":{"field":"z","type":"quantitative","axis":{"orient":"top","offset":-155,"values":[1,3,5,7,9],"labels":false,"title":null,"domain":true,"domainColor":"black","domainWidth":1.5,"tickSize":-4,"tickWidth":1.2}},
     "y":{"field":"p","type":"quantitative","axis":{"orient":"right","offset":-19,"values":[0,0.5,1],"labels":false,"title":null,"domain":true,"domainColor":"black","domainWidth":1.5,"tickSize":-4,"tickWidth":1.2}}
    }}
  ],
  "resolve":{"axis":{"x":"independent","y":"independent"}}
 }
 ],
 "resolve":{"scale":{"x":"independent","y":"independent"}}
},
{
 "width":475,"height":283,
 "layer":[
 {
  "layer":[
   {"data":{"name":"R_bars"},"mark":{"type":"rule","strokeWidth":3.5},
    "encoding":{
     "x":{"field":"x1","type":"quantitative","scale":{"domain":[0.3,4.0],"nice":false,"zero":false},"axis":{"orient":"bottom","values":[0.4,0.6,0.7,0.8,0.9,1.1,1.2,1.3,1.4,1.6,1.7,1.8,1.9,2.1,2.2,2.3,2.4,2.6,2.7,2.8,2.9,3.1,3.2,3.3,3.4,3.6,3.7,3.8,3.9],"labels":false,"tickSize":-3.5,"tickWidth":1.2,"title":null}},
     "x2":{"field":"x2"},
     "y":{"field":"yb","type":"quantitative","scale":{"domain":[-32,-29],"nice":false,"zero":false},"axis":{"orient":"left","values":[-31.9,-31.8,-31.7,-31.6,-31.5,-31.4,-31.3,-31.2,-31.1,-30.9,-30.8,-30.7,-30.6,-30.5,-30.4,-30.3,-30.2,-30.1,-29.9,-29.8,-29.7,-29.6,-29.5,-29.4,-29.3,-29.2,-29.1],"labels":false,"tickSize":-3.5,"tickWidth":1.2,"title":null}},
     "stroke":{"field":"band","type":"nominal","scale":{"domain":["B1","B2","B3","B4","B5"],"range":["#9467bd","#1f77b4","#2ca02c","#d62728","#ff7f0e"]},"legend":null}
    }},
   {"data":{"name":"R_mod"},"mark":{"type":"line","clip":true},
    "encoding":{
     "x":{"field":"lam","type":"quantitative","axis":{"orient":"bottom","values":[0.5,1,1.5,2,2.5,3,3.5],"format":"~g","title":"λ [μm]","tickSize":-6,"tickWidth":1.5,"labelPadding":7,"titlePadding":2}},
     "y":{"field":"logf","type":"quantitative","axis":{"orient":"left","values":[-32,-31,-30,-29],"format":"d","title":"log₁₀ (fᵥ / erg s⁻¹ cm⁻² Hz⁻¹)","tickSize":-6,"tickWidth":1.5,"labelPadding":11,"titlePadding":3}},
     "color":{"field":"model","type":"nominal","scale":{"domain":["fit","alt","bd"],"range":["#14b4f0","#ffa31a","#e06262"]},"legend":{"labelExpr":"datum.label == 'fit' ? 'z = 6.9⁺⁰˙²¹₋₀.₂₁, χ² = 13.2' : datum.label == 'alt' ? 'z = 1.5, χ² = 44.4' : 'χ² = 29.1, type = T3'"}},
     "strokeWidth":{"field":"model","type":"nominal","scale":{"type":"ordinal","domain":["fit","alt","bd"],"range":[3,1.5,1.5]}}
    }},
   {"data":{"name":"R_pts"},"mark":{"type":"rule","color":"black","strokeWidth":2.5},
    "encoding":{
     "x":{"field":"lam","type":"quantitative","axis":{"orient":"top","values":[0.5,1,1.5,2,2.5,3,3.5],"labels":false,"tickSize":-6,"tickWidth":1.5,"title":null}},
     "y":{"field":"lo","type":"quantitative","axis":{"orient":"right","values":[-29.04,-29.44,-29.84,-30.24,-30.64,-31.04,-31.44,-31.84],"labelExpr":"format(-2.5*datum.value-48.6,'.0f')","title":"mAB","titleAngle":270,"titleBaseline":"top","tickSize":-6,"tickWidth":1.5,"labelPadding":9,"titlePadding":4}},
     "y2":{"field":"hi"}
    }},
   {"data":{"name":"R_circ"},"mark":{"type":"point","shape":"circle","filled":false,"stroke":"#333333","strokeWidth":1.2,"size":90},
    "encoding":{
     "x":{"field":"lam","type":"quantitative","axis":{"orient":"top","values":[0.4,0.6,0.7,0.8,0.9,1.1,1.2,1.3,1.4,1.6,1.7,1.8,1.9,2.1,2.2,2.3,2.4,2.6,2.7,2.8,2.9,3.1,3.2,3.3,3.4,3.6,3.7,3.8,3.9],"labels":false,"tickSize":-3.5,"tickWidth":1.2,"title":null}},
     "y":{"field":"logf","type":"quantitative","axis":null}
    }},
   {"data":{"name":"R_pts"},"transform":[{"filter":"datum.kind == 'dot'"}],"mark":{"type":"point","shape":"circle","filled":true,"color":"black","size":55},
    "encoding":{"x":{"field":"lam","type":"quantitative","axis":null},"y":{"field":"logf","type":"quantitative","axis":null}}},
   {"data":{"name":"R_pts"},"transform":[{"filter":"datum.kind == 'dia'"}],"mark":{"type":"point","shape":"diamond","filled":true,"fill":"#ff7f0e","stroke":"black","strokeWidth":1,"size":190,"opacity":1},
    "encoding":{"x":{"field":"lam","type":"quantitative","axis":null},"y":{"field":"logf","type":"quantitative","axis":null}}},
   {"data":{"name":"R_pts"},"transform":[{"filter":"datum.kind == 'sq'"}],"mark":{"type":"point","shape":"square","filled":true,"stroke":"black","strokeWidth":1,"size":140,"opacity":1},
    "encoding":{"x":{"field":"lam","type":"quantitative","axis":null},"y":{"field":"logf","type":"quantitative","axis":null},
     "fill":{"field":"band","type":"nominal","scale":{"domain":["B2","B3","B4"],"range":["#1f77b4","#2ca02c","#d62728"]},"legend":null}}},
   {"data":{"name":"R_arr"},"transform":[{"filter":"datum.kind == 'k'"}],"mark":{"type":"point","shape":"M-0.15,-1L0.15,-1L0.15,0.1L0.55,0.1L0,1L-0.55,0.1L-0.15,0.1Z","filled":true,"color":"black","size":225,"opacity":1},
    "encoding":{"x":{"field":"lam","type":"quantitative","axis":null},"y":{"field":"logf","type":"quantitative","axis":null}}},
   {"data":{"name":"R_arr"},"transform":[{"filter":"datum.kind == 'o'"}],"mark":{"type":"point","shape":"M-0.15,-1L0.15,-1L0.15,0.1L0.55,0.1L0,1L-0.55,0.1L-0.15,0.1Z","filled":true,"color":"#ff7f0e","size":225,"opacity":1},
    "encoding":{"x":{"field":"lam","type":"quantitative","axis":null},"y":{"field":"logf","type":"quantitative","axis":null}}},
   {"data":{"name":"R_arr"},"transform":[{"filter":"datum.kind == 'g'"}],"mark":{"type":"point","shape":"M-0.15,-1L0.15,-1L0.15,0.1L0.55,0.1L0,1L-0.55,0.1L-0.15,0.1Z","filled":true,"color":"#8c8c8c","size":225,"opacity":1},
    "encoding":{"x":{"field":"lam","type":"quantitative","axis":null},"y":{"field":"logf","type":"quantitative","axis":null}}},
   {"data":{"name":"R_arr"},"transform":[{"filter":"datum.kind == 'p'"}],"mark":{"type":"point","shape":"M-0.15,-1L0.15,-1L0.15,0.1L0.55,0.1L0,1L-0.55,0.1L-0.15,0.1Z","filled":true,"color":"#9467bd","size":225,"opacity":1},
    "encoding":{"x":{"field":"lam","type":"quantitative","axis":null},"y":{"field":"logf","type":"quantitative","axis":null}}}
  ],
  "resolve":{"axis":{"x":"independent","y":"independent"}}
 },
 {
  "layer":[
   {"data":{"name":"P_R"},"mark":{"type":"line","color":"black","strokeWidth":1.5},
    "encoding":{
     "x":{"field":"z","type":"quantitative","scale":{"domain":[0,10],"range":[335,456],"nice":false,"zero":false},"axis":{"orient":"bottom","offset":-58,"values":[1,3,5,7,9],"format":"d","title":"zₚₕₒₜ","domain":true,"domainColor":"black","domainWidth":1.5,"tickSize":-4,"tickWidth":1.2,"labelPadding":8,"titlePadding":3}},
     "y":{"field":"p","type":"quantitative","scale":{"domain":[-0.03,1.03],"range":[225,155],"nice":false,"zero":false},"axis":{"orient":"left","offset":-335,"values":[0,0.5,1],"format":".1f","title":"P(z)","titleFontStyle":"italic","domain":true,"domainColor":"black","domainWidth":1.5,"tickSize":-4,"tickWidth":1.2,"labelPadding":7,"titlePadding":9}}
    }},
   {"data":{"name":"P_R"},"mark":{"type":"line","color":"black","strokeWidth":1.5},
    "encoding":{
     "x":{"field":"z","type":"quantitative","axis":{"orient":"top","offset":-155,"values":[1,3,5,7,9],"labels":false,"title":null,"domain":true,"domainColor":"black","domainWidth":1.5,"tickSize":-4,"tickWidth":1.2}},
     "y":{"field":"p","type":"quantitative","axis":{"orient":"right","offset":-19,"values":[0,0.5,1],"labels":false,"title":null,"domain":true,"domainColor":"black","domainWidth":1.5,"tickSize":-4,"tickWidth":1.2}}
    }}
  ],
  "resolve":{"axis":{"x":"independent","y":"independent"}}
 }
 ],
 "resolve":{"scale":{"x":"independent","y":"independent"}}
}
]
}
